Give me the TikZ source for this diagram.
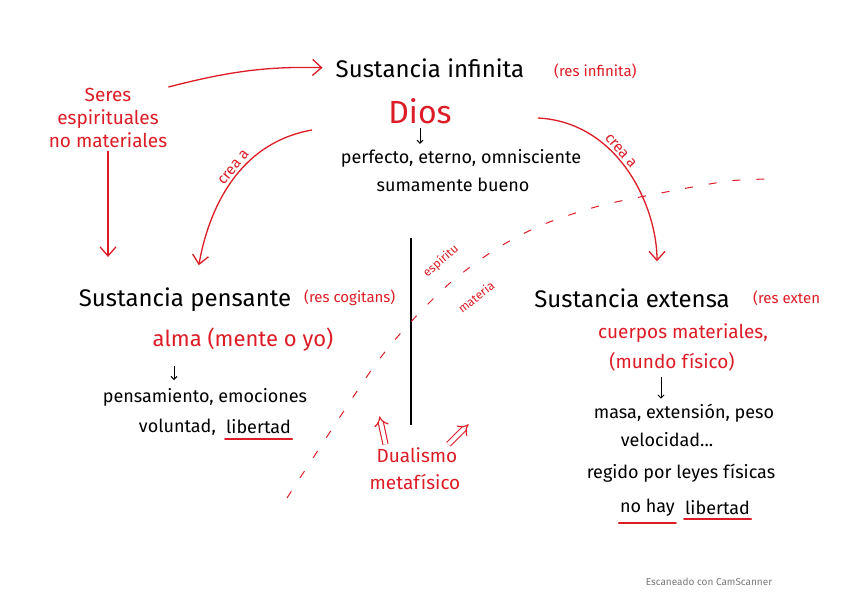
\documentclass[tikz,border=0pt]{standalone}
\usepackage{fontspec}
\setmainfont{Fira Sans}
\usetikzlibrary{arrows.meta,positioning}

\definecolor{pen}{RGB}{220,28,38}
\definecolor{scangray}{RGB}{120,120,120}

\tikzset{
  titulo/.style={font=\fontsize{24}{28}\selectfont, inner sep=1pt},
  texto/.style={font=\fontsize{18}{22}\selectfont, inner sep=1pt},
  rojo/.style={text=pen, font=\fontsize{19}{23}\selectfont, inner sep=1pt},
  res/.style={text=pen, font=\fontsize{15}{17}\selectfont, inner sep=1pt},
  chica/.style={text=pen, font=\fontsize{12}{14}\selectfont, inner sep=0pt},
  flecha/.style={draw=pen, line width=1.3pt, -{Straight Barb[length=9pt,width=16pt]}},
  mini/.style={line width=1pt, -{Straight Barb[length=3pt,width=6pt]}},
  doble/.style={draw=pen, line width=1.1pt, double, double distance=4pt, -{Implies}},
  subr/.style={draw=pen, line width=1.8pt, line cap=round},
}

\begin{document}
\begin{tikzpicture}[x=1pt,y=1pt]

\useasboundingbox[fill=white] (0,0) rectangle (848,-599);

% Sustancia infinita
\node[titulo] (inf) at (430,-68) {Sustancia infinita};
\node[res, anchor=west] (infres) at (553,-71) {(res infinita)};
\node[rojo, font=\fontsize{32}{36}\selectfont] (dios) at (420,-111) {Dios};
\node[texto] (diosp1) at (461,-158) {perfecto, eterno, omnisciente};
\node[texto] (diosp2) at (453,-185) {sumamente bueno};
\draw[mini, shorten <=3pt, shorten >=4pt] (dios.south) -- (dios.south |- diosp1.north);

% Seres espirituales
\node[rojo, align=center] (seres) at (108,-118) {Seres\\espirituales\\no materiales};

% Sustancia pensante
\node[titulo] (pens) at (185,-300) {Sustancia pensante};
\node[res, anchor=west] (pensres) at (303,-298) {(res cogitans)};
\node[rojo, font=\fontsize{22}{26}\selectfont] (alma) at (243,-340) {alma (mente o yo)};
\node[texto] (pensp1) at (205,-397) {pensamiento, emociones};
\node[texto, anchor=east] (vol) at (217,-427) {voluntad,};
\node[texto, right=8pt of vol] (lib) {libertad};
\draw[mini] (174,-366) -- (174,-380);
\draw[subr] ([yshift=-4pt]lib.south west) -- ([yshift=-4pt]lib.south east);

% Sustancia extensa
\node[titulo] (ext) at (632,-298) {Sustancia extensa};
\node[res, anchor=west] (extres) at (752,-298) {(res exten};
\node[rojo] (cuerpos) at (683,-333) {cuerpos materiales,};
\node[rojo] (mundo) at (672,-362) {(mundo físico)};
\node[texto] (extp1) at (684,-413) {masa, extensión, peso};
\node[texto] (extp2) at (667,-440) {velocidad...};
\node[texto] (leyes) at (681,-473) {regido por leyes físicas};
\node[texto, anchor=east] (nohay) at (676,-508) {no hay};
\node[texto, right=8pt of nohay] (nolib) {libertad};
\draw[mini, shorten <=4pt, shorten >=4pt] (mundo.south -| 661,0) -- (extp1.north -| 661,0);
\draw[subr] ([yshift=-5pt]nohay.south west) -- ([yshift=-5pt]nohay.south east);
\draw[subr] ([yshift=-3pt]nolib.south west) -- ([yshift=-3pt]nolib.south east);

% Flechas
\coordinate (creaizq) at (312,-130);
\coordinate (creader) at (538,-118);
\draw[flecha, shorten >=12pt] (seres.north east) to[bend left=8] (inf.west);
\draw[flecha, shorten <=2pt, shorten >=30pt] (seres.south) -- (seres.south |- pens.north);
\draw[flecha, shorten >=22pt] (creaizq) to[out=190, in=80]
  node[pos=0.42, sloped, above=2pt, res] {crea a} (pens.north -| 195,0);
\draw[flecha, shorten >=26pt] (creader) to[out=-3, in=90]
  node[pos=0.4, sloped, above=2pt, res] {crea a} (ext.north -| 657,0);

% Dualismo
\coordinate (divsup) at (411,-238);
\coordinate (divinf) at (411,-425);
\draw[line width=1.5pt] (divsup) -- (divinf);
\draw[pen, line width=1pt, dash pattern=on 8pt off 16pt] plot[smooth] coordinates
  {(287,-498) (330,-432) (375,-365) (408,-325) (450,-283) (496,-249)
   (542,-225) (599,-206) (666,-192) (729,-181) (772,-179)};
\node[chica, rotate=41] (espiritu) at (441,-261) {espíritu};
\node[chica, rotate=38] (materia) at (476,-297) {materia};
\node[rojo] (dual1) at (417,-455) {Dualismo};
\node[rojo] (dual2) at (415,-482) {metafísico};
\draw[doble] ([xshift=10pt,yshift=2pt]dual1.north west) -- ++(-6,28);
\draw[doble] ([xshift=-10pt,yshift=2pt]dual1.north east) -- ++(20,20);

% pie
\node[font=\fontsize{10}{12}\selectfont, text=scangray] (scan) at (709,-582) {Escaneado con CamScanner};

\end{tikzpicture}
\end{document}
